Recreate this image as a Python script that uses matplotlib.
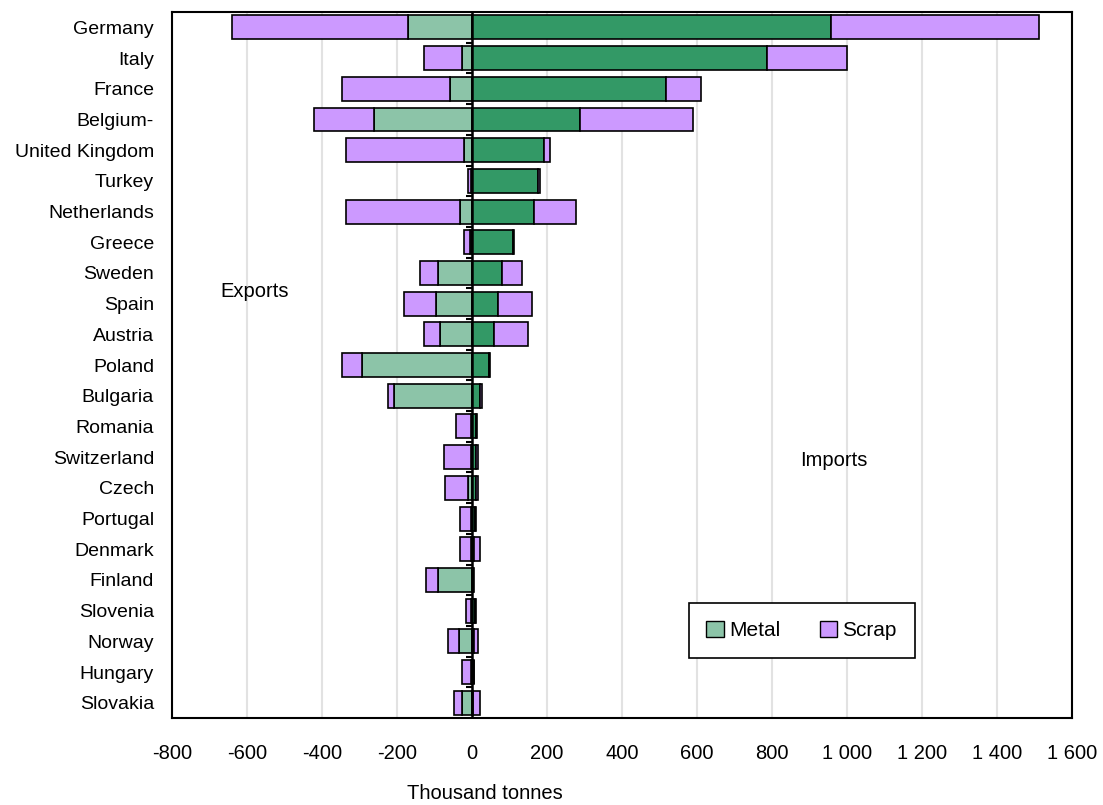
"""
Aluminium trade by country: metal and scrap, exports (left) vs imports (right).
Writes out.png.
"""
import matplotlib.pyplot as plt
import numpy as np
from matplotlib.patches import Patch

plt.rcParams["font.family"] = ["Liberation Sans", "DejaVu Sans"]

countries = ["Germany", "Italy", "France", "Belgium-", "United Kingdom", "Turkey",
             "Netherlands", "Greece", "Sweden", "Spain", "Austria", "Poland",
             "Bulgaria", "Romania", "Switzerland", "Czech", "Portugal", "Denmark",
             "Finland", "Slovenia", "Norway", "Hungary", "Slovakia"]

# thousand tonnes, exports shown as negative
metal_exports = [-171, -26, -59, -261, -21, -3, -32, -5, -91, -96, -85, -293,
                 -208, -2, -2, -10, -2, -2, -91, -2, -34, -2, -27]
scrap_exports = [-469, -102, -288, -160, -315, -9, -304, -16, -48, -85, -43, -54,
                 -15, -40, -72, -63, -29, -29, -32, -13, -29, -25, -21]
metal_imports = [958, 787, 517, 288, 192, 176, 165, 110, 79, 68, 59, 44,
                 20, 10, 10, 10, 8, 5, 3, 8, 5, 4, 2]
scrap_imports = [554, 213, 94, 301, 16, 5, 112, 1, 54, 92, 90, 4,
                 6, 2, 5, 5, 2, 17, 1, 2, 10, 2, 20]

x_ticks = list(range(-800, 1601, 200))
x_tick_labels = ["-800", "-600", "-400", "-200", "0", "200", "400", "600", "800",
                 "1 000", "1 200", "1 400", "1 600"]

DARK_GREEN = "#339966"
LIGHT_GREEN = "#8CC4A8"
PURPLE = "#CC99FF"

fig = plt.figure(figsize=(11.03, 8.05), dpi=100)
ax = fig.add_axes([0.156, 0.108, 0.816, 0.877])

y = np.arange(len(countries))
h = 0.78
bar_kw = dict(height=h, edgecolor="black", linewidth=1.2, zorder=3)

ax.barh(y, metal_exports, color=LIGHT_GREEN, **bar_kw)
ax.barh(y, scrap_exports, left=metal_exports, color=PURPLE, **bar_kw)
ax.barh(y, metal_imports, color=DARK_GREEN, **bar_kw)
ax.barh(y, scrap_imports, left=metal_imports, color=PURPLE, **bar_kw)

# zero line with small category ticks
ax.axvline(0, color="black", linewidth=1.8, zorder=4)
bounds = np.arange(len(countries) + 1) - 0.5
ax.hlines(bounds[1:-1], -16, 0, color="black", linewidth=1.5, zorder=4)

ax.set_xlim(-800, 1600)
ax.set_ylim(len(countries) - 0.5, -0.5)
ax.set_xticks(x_ticks)
ax.set_xticklabels(x_tick_labels, fontsize=14.5)
ax.set_yticks(y)
ax.set_yticklabels(countries, fontsize=14)
ax.tick_params(axis="both", length=0)
ax.tick_params(axis="y", pad=13)
ax.tick_params(axis="x", pad=19)

ax.grid(axis="x", color="#e2e2e2", linewidth=1.5, zorder=0)
ax.set_axisbelow(True)
for s in ax.spines.values():
    s.set_linewidth(1.5)

ax.set_xlabel("Thousand tonnes", fontsize=14.5)
ax.xaxis.set_label_coords(0.348, -0.093)

ax.text(-580, 8.6, "Exports", fontsize=14.5, ha="center", va="center")
ax.text(965, 14.1, "Imports", fontsize=14.5, ha="center", va="center")

handles = [Patch(facecolor=LIGHT_GREEN, edgecolor="black", label="Metal"),
           Patch(facecolor=PURPLE, edgecolor="black", label="Scrap")]
leg = ax.legend(handles=handles, ncol=2, fontsize=15, loc="center",
                bbox_to_anchor=(0.574, 0.085, 0.251, 0.078), mode="expand",
                borderaxespad=0, fancybox=False, edgecolor="black", framealpha=1,
                handlelength=0.85, handleheight=0.85, handletextpad=0.25,
                columnspacing=1.6, borderpad=0.85)
leg.get_frame().set_linewidth(1.2)

fig.savefig("out.png", dpi=100)
